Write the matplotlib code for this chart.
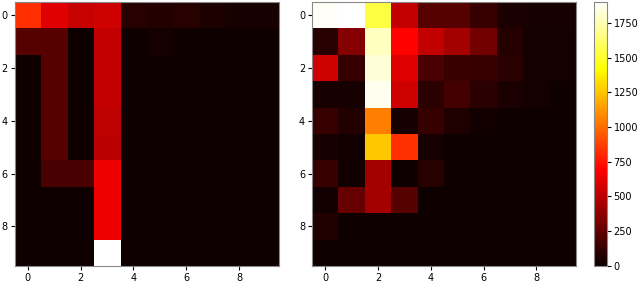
import numpy as np
import matplotlib
matplotlib.use('Agg')
from matplotlib import pyplot as plt

# left heatmap values (rows top to bottom)
left = np.array([
    [830, 610, 540, 560, 85, 70, 85, 55, 40, 40],
    [220, 220, 20, 520, 20, 30, 20, 20, 20, 20],
    [20, 220, 20, 520, 20, 20, 20, 20, 20, 20],
    [20, 220, 20, 520, 20, 20, 20, 20, 20, 20],
    [20, 220, 20, 510, 20, 20, 20, 20, 20, 20],
    [20, 220, 20, 500, 20, 20, 20, 20, 20, 20],
    [20, 180, 180, 650, 20, 20, 20, 20, 20, 20],
    [20, 20, 20, 650, 20, 20, 20, 20, 20, 20],
    [20, 20, 20, 650, 20, 20, 20, 20, 20, 20],
    [20, 20, 20, 1900, 20, 20, 20, 20, 20, 20],
])

# right heatmap values
right = np.array([
    [1880, 1900, 1540, 520, 220, 220, 130, 45, 40, 40],
    [85, 350, 1780, 700, 520, 440, 300, 80, 30, 30],
    [560, 130, 1820, 600, 180, 140, 130, 90, 30, 30],
    [40, 40, 1870, 560, 90, 170, 90, 45, 30, 20],
    [130, 70, 1055, 40, 130, 60, 25, 20, 20, 20],
    [40, 25, 1260, 830, 40, 20, 20, 20, 20, 20],
    [130, 25, 440, 15, 85, 20, 20, 20, 20, 20],
    [25, 260, 440, 220, 20, 20, 20, 20, 20, 20],
    [70, 20, 20, 20, 20, 20, 20, 20, 20, 20],
    [20, 20, 20, 20, 20, 20, 20, 20, 20, 20],
])

vmax = 1900
ticks = [0, 2, 4, 6, 8]
cbar_ticks = [0, 250, 500, 750, 1000, 1250, 1500, 1750]

plt.rcParams['font.size'] = 7
fig = plt.figure(figsize=(6.4, 2.82), dpi=100)
ax1 = fig.add_axes([0.022, 0.057, 0.414, 0.936])
ax2 = fig.add_axes([0.4875, 0.057, 0.4125, 0.936])
cax = fig.add_axes([0.928, 0.057, 0.02, 0.936])

ax1.imshow(left, cmap='hot', vmin=0, vmax=vmax)
im = ax2.imshow(right, cmap='hot', vmin=0, vmax=vmax)
for ax in (ax1, ax2):
    ax.set_xticks(ticks)
    ax.set_yticks(ticks)
    ax.tick_params(labelsize=7, length=3, pad=2)
    for s in ax.spines.values():
        s.set_color('#888888')

cb = fig.colorbar(im, cax=cax, ticks=cbar_ticks)
cb.ax.tick_params(labelsize=7, length=3, pad=2)
cb.outline.set_edgecolor('#888888')

plt.savefig('out.png', dpi=100)
